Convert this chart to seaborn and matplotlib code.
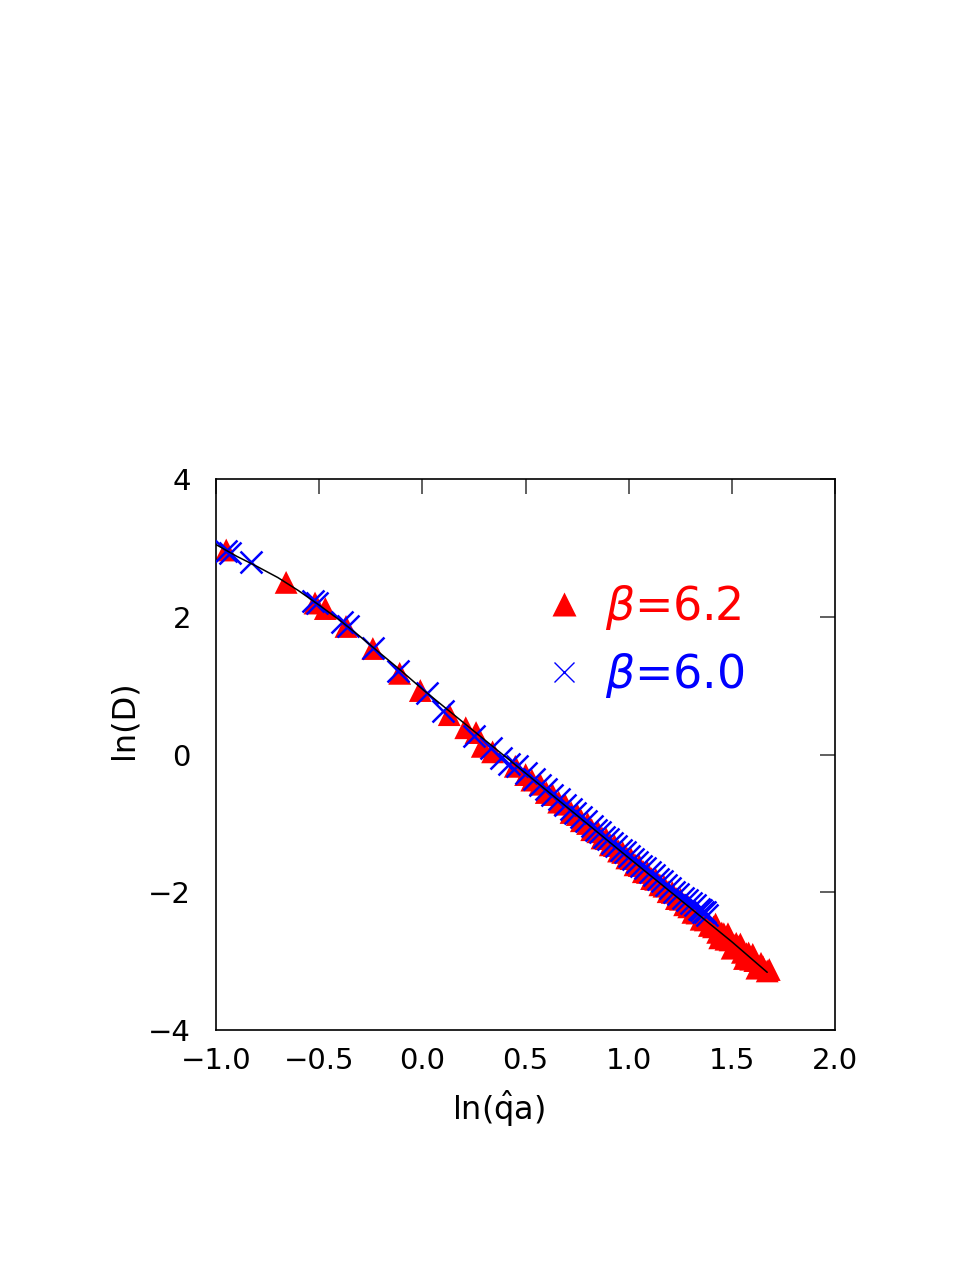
import numpy as np
import pandas as pd
import matplotlib
matplotlib.use("Agg")
import matplotlib.pyplot as plt
from matplotlib.lines import Line2D
import seaborn as sns

# beta = 6.2 (red triangles)
x_b62 = [-0.95, -0.66, -0.52, -0.47, -0.37, -0.24, -0.11, -0.01, 0.13, 0.21, 0.26, 0.29, 0.34,
         0.45, 0.50, 0.53, 0.57, 0.60, 0.63, 0.66, 0.69, 0.72, 0.75, 0.77, 0.80, 0.82, 0.85,
         0.87, 0.89, 0.91, 0.93, 0.95, 0.97, 0.99, 1.01, 1.03, 1.05, 1.07, 1.09, 1.11, 1.13,
         1.15, 1.17, 1.19, 1.21, 1.23, 1.25, 1.27, 1.29, 1.31, 1.33, 1.35, 1.37, 1.39, 1.41,
         1.43, 1.45, 1.47, 1.49, 1.51, 1.53, 1.55, 1.57, 1.59, 1.61, 1.63, 1.65, 1.67,
         1.46, 1.52, 1.58, 1.64, 1.68,
         1.42, 1.48, 1.54, 1.60, 1.44, 1.50, 1.56, 1.62]
y_b62 = [2.97, 2.50, 2.20, 2.12, 1.86, 1.54, 1.18, 0.93, 0.58, 0.39, 0.32, 0.12, 0.04,
         -0.17, -0.29, -0.37, -0.43, -0.55, -0.58, -0.69, -0.72, -0.84, -0.87, -0.96, -1.00,
         -1.09, -1.12, -1.21, -1.22, -1.31, -1.32, -1.40, -1.42, -1.50, -1.51, -1.60, -1.61,
         -1.70, -1.71, -1.80, -1.81, -1.89, -1.91, -1.99, -2.00, -2.09, -2.10, -2.18, -2.21,
         -2.29, -2.30, -2.39, -2.40, -2.48, -2.50, -2.58, -2.59, -2.68, -2.69, -2.77, -2.79,
         -2.87, -2.89, -2.97, -2.99, -3.07, -3.08, -3.14,
         -2.60, -2.74, -2.88, -3.03, -3.12,
         -2.46, -2.60, -2.75, -2.90, -2.66, -2.81, -2.96, -3.10]

# beta = 6.0 (blue crosses)
x_b60 = [-0.95, -0.93, -0.83, -0.53, -0.51, -0.39, -0.36, -0.24, -0.12, 0.02, 0.10, 0.25,
         0.33, 0.38, 0.42, 0.46, 0.50, 0.54, 0.57, 0.60, 0.63, 0.66, 0.69, 0.72, 0.74, 0.77,
         0.79, 0.82, 0.84, 0.86, 0.88, 0.90, 0.92, 0.94, 0.96, 0.98, 1.00, 1.02, 1.04, 1.06,
         1.08, 1.10, 1.12, 1.14, 1.16, 1.18, 1.20, 1.22, 1.24, 1.26, 1.28, 1.30, 1.32, 1.34,
         1.35, 1.36, 1.37, 1.38]
y_b60 = [2.95, 2.93, 2.79, 2.23, 2.20, 1.92, 1.86, 1.55, 1.21, 0.90, 0.64, 0.27,
         0.09, -0.05, -0.14, -0.16, -0.26, -0.35, -0.44, -0.50, -0.58, -0.65, -0.73, -0.79,
         -0.85, -0.91, -0.97, -1.03, -1.09, -1.13, -1.19, -1.23, -1.28, -1.32, -1.38, -1.42,
         -1.47, -1.52, -1.56, -1.62, -1.65, -1.71, -1.75, -1.80, -1.84, -1.90, -1.94, -1.99,
         -2.03, -2.08, -2.11, -2.16, -2.19, -2.24, -2.25, -2.29, -2.28, -2.33]

# fit curve
x_fit = [-1.0, -0.9, -0.8, -0.7, -0.6, -0.5, -0.4, -0.3, -0.2, -0.1, 0.0, 0.5, 1.0, 1.5, 1.67]
y_fit = [3.05, 2.88, 2.73, 2.57, 2.38, 2.17, 1.95, 1.71, 1.46, 1.21, 0.95, -0.27, -1.50, -2.72, -3.16]

sns.set_style("white")
plt.rcParams["font.family"] = ["DejaVu Sans"]
plt.rcParams["mathtext.fontset"] = "dejavusans"

df62 = pd.DataFrame({"x": x_b62, "y": y_b62})
df60 = pd.DataFrame({"x": x_b60, "y": y_b60})
dfit = pd.DataFrame({"x": x_fit, "y": y_fit})

fig = plt.figure(figsize=(9.77, 12.64), dpi=100)
ax = fig.add_axes([0.221, 0.185, 0.634, 0.436])

sns.scatterplot(data=df62, x="x", y="y", marker="^", s=270, color="red",
                edgecolor="none", linewidth=0, ax=ax, zorder=2)
sns.scatterplot(data=df60, x="x", y="y", marker="x", s=250, color="blue",
                linewidth=1.8, ax=ax, zorder=3)
sns.lineplot(data=dfit, x="x", y="y", sort=False, estimator=None, color="black",
             linewidth=1.1, ax=ax, zorder=4)

ax.set_xlim(-1.0, 2.0)
ax.set_ylim(-4, 4)
ax.set_xticks([-1.0, -0.5, 0.0, 0.5, 1.0, 1.5, 2.0])
ax.set_xticklabels(["\u22121.0", "\u22120.5", "0.0", "0.5", "1.0", "1.5", "2.0"])
ax.set_yticks([-4, -2, 0, 2, 4])
ax.set_yticklabels(["\u22124", "\u22122", "0", "2", "4"])
ax.tick_params(direction="in", length=11, width=1.2, color="#444444",
               top=True, right=True, labelsize=21, labelcolor="black")
ax.tick_params(axis="x", pad=12)
ax.tick_params(axis="y", pad=18)
for sp in ax.spines.values():
    sp.set_color("black")
    sp.set_linewidth(1.2)

ax.set_xlabel(r"ln($\hat{\mathrm{q}}$a)", fontsize=23, color="black")
ax.set_ylabel("ln(D)", fontsize=23, color="black")
ax.xaxis.set_label_coords(0.457, -0.105)
ax.yaxis.set_label_coords(-0.123, 0.564)

handles = [Line2D([], [], marker="^", color="red", ls="", markersize=17, mec="none"),
           Line2D([], [], marker="x", color="blue", ls="", markersize=15, mew=1.0)]
leg = ax.legend(handles, [r"$\beta$=6.2", r"$\beta$=6.0"], loc="center left",
                bbox_to_anchor=(0.44, 0.705), frameon=False, fontsize=33,
                handletextpad=0.15, labelspacing=0.4, handlelength=1.5)
for t, c in zip(leg.get_texts(), ["red", "blue"]):
    t.set_color(c)

fig.savefig("out.png", dpi=100)
